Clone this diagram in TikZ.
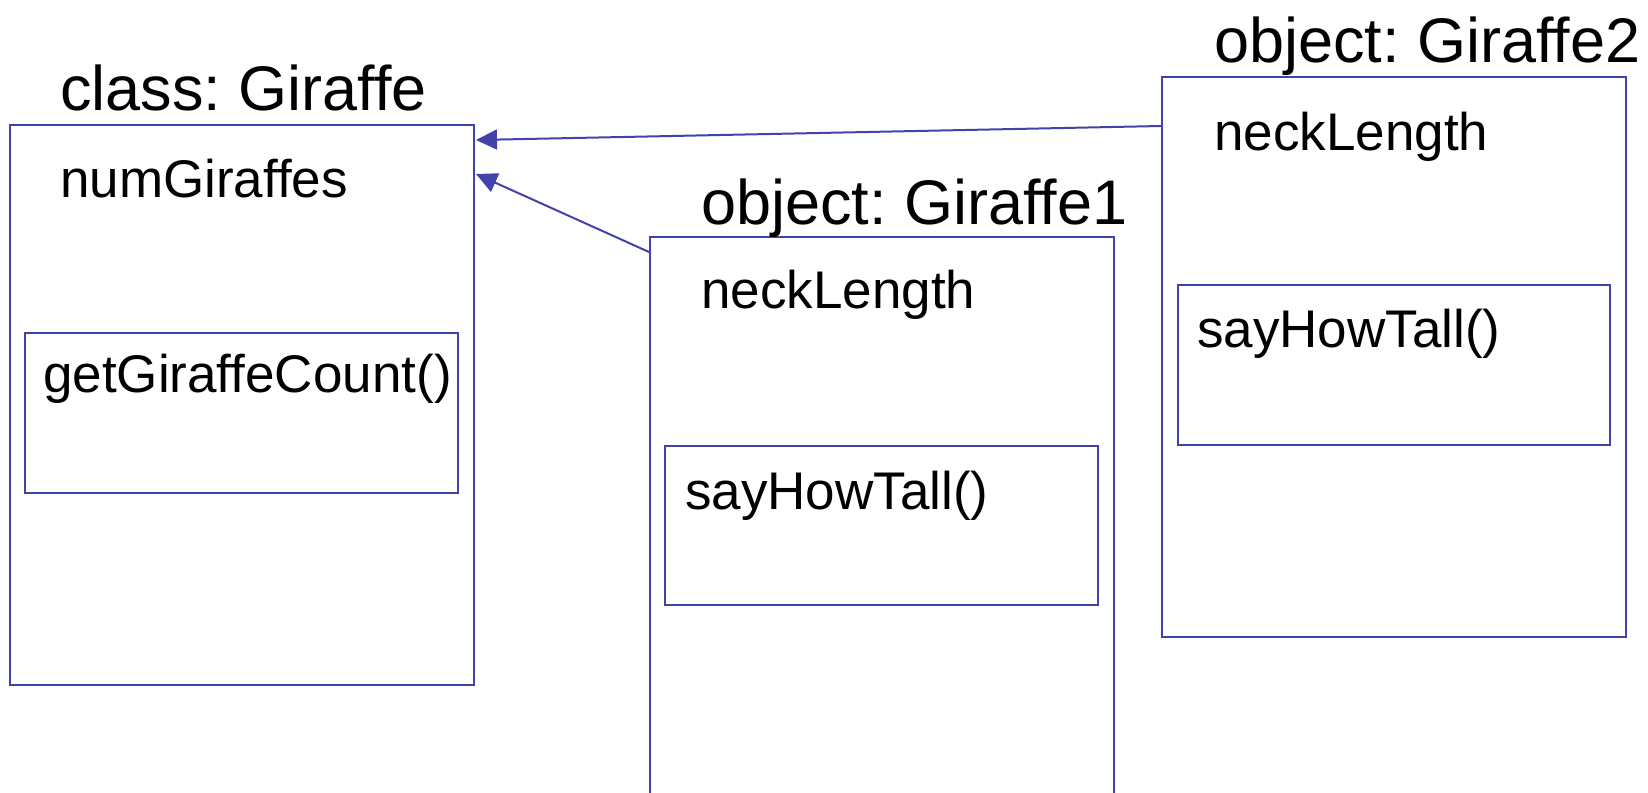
\documentclass[tikz,border=0pt]{standalone}
\usepackage{fontspec}
\setmainfont{Liberation Sans}
\frenchspacing
\usetikzlibrary{arrows.meta,calc}
\definecolor{umlblue}{RGB}{66,66,170}
\tikzset{
  box/.style={draw=umlblue, line width=2pt, inner sep=0pt, anchor=north west, rectangle},
  titletext/.style={anchor=base west, inner sep=0pt, font=\fontsize{63}{70}\selectfont},
  bodytext/.style={anchor=base west, inner sep=0pt, font=\fontsize{53}{60}\selectfont},
  link/.style={draw=umlblue, line width=2pt, -{Triangle[length=21pt,width=20pt]}},
}
\begin{document}
\begin{tikzpicture}[x=1pt,y=-1pt]
\useasboundingbox (0,0) rectangle (1648,792);
\clip (0,0) rectangle (1648,792);

% class Giraffe
\node[box, minimum width=464pt, minimum height=560pt] (cls) at (9,124) {};
\node[box, minimum width=433pt, minimum height=160pt] (clsm) at (24,332) {};
\node[titletext] (clst) at (60,110) {class: Giraffe};
\node[bodytext] (clsa) at (60,197) {numGiraffes};
\node[bodytext] (clsb) at (43,392) {getGiraffeCount()};

% object Giraffe1
\node[box, minimum width=464pt, minimum height=600pt] (ga) at (649,236) {};
\node[box, minimum width=433pt, minimum height=159pt] (gam) at (664,445) {};
\node[titletext] (gat) at (701,224) {object: Giraffe1};
\node[bodytext] (gaa) at (701,308) {neckLength};
\node[bodytext] (gab) at (685,509) {sayHowTall()};

% object Giraffe2
\node[box, minimum width=464pt, minimum height=560pt] (gb) at (1161,76) {};
\node[box, minimum width=432pt, minimum height=160pt] (gbm) at (1177,284) {};
\node[titletext] (gbt) at (1214,63) {object: Giraffe2};
\node[bodytext] (gba) at (1214,150) {neckLength};
\node[bodytext] (gbb) at (1197,347) {sayHowTall()};

% instance links to the class
\draw[link] ($(gb.north west)+(0,50)$) -- ($(cls.north east)+(1,16)$);
\draw[link] ($(ga.north west)+(0,16)$) -- ($(cls.north east)+(1,50)$);
\end{tikzpicture}
\end{document}
